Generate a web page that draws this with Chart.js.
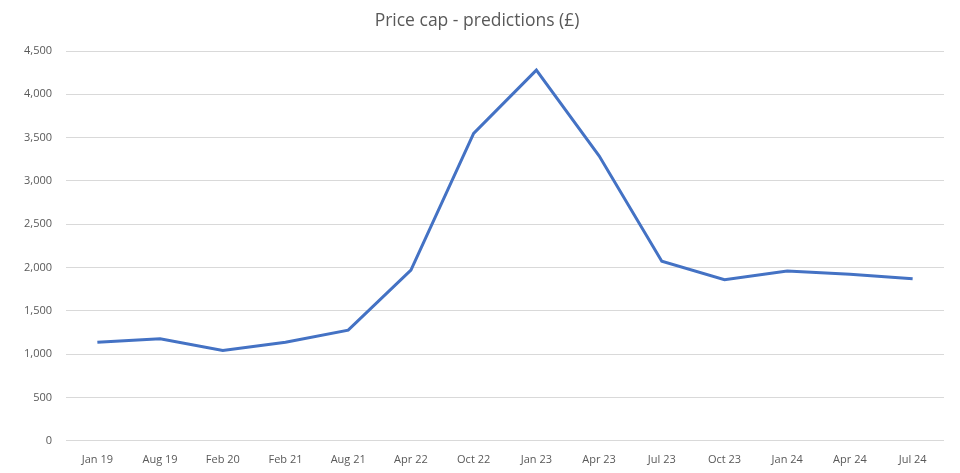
<!DOCTYPE html>
<html>
<head>
    <title>Price cap - predictions</title>
    <script src="https://cdn.jsdelivr.net/npm/chart.js"></script>
    <style>
        html, body { margin: 0; padding: 0; background: #fff; }
        #wrap { width: 960px; height: 473px; }
    </style>
</head>
<body>
    <div id="wrap"><canvas id="myChart"></canvas></div>
    <script>
        var labels = ['Jan 19', 'Aug 19', 'Feb 20', 'Feb 21', 'Aug 21', 'Apr 22', 'Oct 22',
                      'Jan 23', 'Apr 23', 'Jul 23', 'Oct 23', 'Jan 24', 'Apr 24', 'Jul 24'];
        var priceCap = [1137, 1179, 1042, 1138, 1277, 1971, 3549,
                        4279, 3290, 2074, 1860, 1960, 1924, 1870];
        var yMin = 0, yMax = 4500, yStep = 500;

        var ctx = document.getElementById('myChart').getContext('2d');
        var chart = new Chart(ctx, {
            type: 'line',
            data: {
                labels: labels,
                datasets: [{
                    label: 'Price cap',
                    data: priceCap,
                    borderColor: '#4472C4',
                    borderWidth: 3,
                    pointRadius: 0,
                    tension: 0,
                    fill: false
                }]
            },
            options: {
                responsive: true,
                maintainAspectRatio: false,
                animation: false,
                layout: { padding: { left: 10, right: 16, top: 9, bottom: 3 } },
                plugins: {
                    legend: { display: false },
                    tooltip: { enabled: false },
                    title: {
                        display: true,
                        text: 'Price cap - predictions (£)',
                        color: '#595959',
                        font: { family: 'Open Sans', size: 17.5, weight: 'normal' },
                        padding: { top: 2, bottom: 19 }
                    }
                },
                scales: {
                    x: {
                        offset: true,
                        grid: { display: false },
                        border: { display: false },
                        ticks: {
                            color: '#595959',
                            font: { family: 'Open Sans', size: 11 },
                            maxRotation: 0,
                            autoSkip: false,
                            padding: 4
                        }
                    },
                    y: {
                        min: yMin,
                        max: yMax,
                        grid: { color: '#d9d9d9', drawTicks: false },
                        border: { display: false },
                        ticks: {
                            stepSize: yStep,
                            color: '#595959',
                            font: { family: 'Open Sans', size: 11 },
                            padding: 14,
                            callback: function(v) { return v.toLocaleString('en-GB'); }
                        }
                    }
                }
            }
        });
    </script>
</body>
</html>
